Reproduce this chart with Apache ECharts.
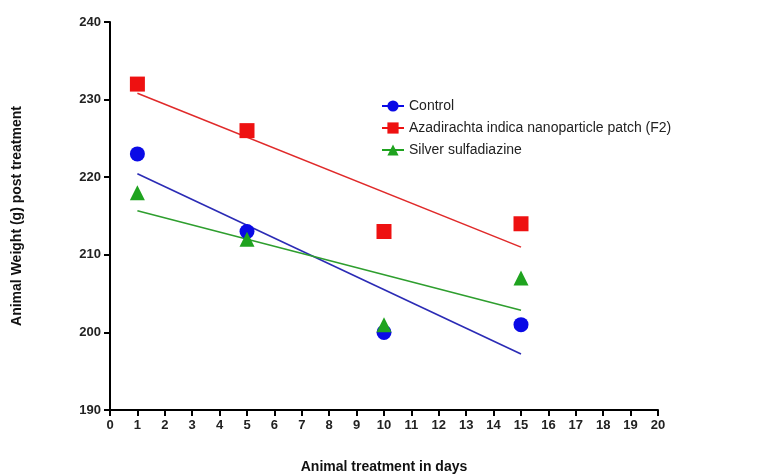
<!DOCTYPE html>
<html>
<head>
<meta charset="utf-8">
<script src="https://cdn.jsdelivr.net/npm/echarts@6/dist/echarts.min.js"></script>
<style>
  html, body { margin: 0; padding: 0; background: #fff; }
  #main { width: 774px; height: 474px; }
</style>
</head>
<body>
<div id="main"></div>
<script>
// days of treatment
var days = [1, 5, 10, 15];
// animal weight (g) per group
var control = [223, 213, 200, 201];
var f2Patch = [232, 226, 213, 214];
var silver = [218, 212, 201, 207];

var names = ['Control', 'Azadirachta indica nanoparticle patch (F2)', 'Silver sulfadiazine'];

// least squares fit, drawn between first and last day
function fit(ys) {
    var n = days.length, mx = 0, my = 0;
    days.forEach(function (x, i) { mx += x; my += ys[i]; });
    mx /= n; my /= n;
    var sxy = 0, sxx = 0;
    days.forEach(function (x, i) {
        sxy += (x - mx) * (ys[i] - my);
        sxx += (x - mx) * (x - mx);
    });
    var b = sxy / sxx, a = my - b * mx;
    var x0 = days[0], x1 = days[n - 1];
    return [[x0, a + b * x0], [x1, a + b * x1]];
}

function pts(ys) {
    return days.map(function (x, i) { return [x, ys[i]]; });
}

var font = 'Liberation Sans, Arial, sans-serif';

function dataSeries(name, ys, symbol, color) {
    return {
        name: name,
        type: 'line',
        data: pts(ys),
        symbol: symbol,
        symbolSize: 15,
        itemStyle: { color: color },
        lineStyle: { opacity: 0 },
        z: 3
    };
}

function fitSeries(ys, color) {
    return {
        type: 'line',
        data: fit(ys),
        symbol: 'none',
        silent: true,
        lineStyle: { color: color, width: 1.6 },
        z: 2
    };
}

var main = echarts.init(document.getElementById('main'));

var option = {
    animation: false,
    grid: { left: 110, right: 116, top: 22, bottom: 64, containLabel: false, outerBoundsMode: 'none' },
    legend: {
        orient: 'vertical',
        left: 376,
        top: 94,
        itemWidth: 22,
        itemHeight: 14,
        itemGap: 8,
        data: names,
        lineStyle: { opacity: 1, width: 2 },
        textStyle: { fontFamily: font, fontSize: 14, color: '#222' }
    },
    xAxis: {
        type: 'value',
        min: 0,
        max: 20,
        interval: 1,
        name: 'Animal treatment in days',
        nameLocation: 'middle',
        nameGap: 50,
        nameTextStyle: { fontFamily: font, fontSize: 14, fontWeight: 'bold', color: '#111' },
        splitLine: { show: false },
        axisLine: { onZero: false, lineStyle: { color: '#000', width: 2 } },
        axisTick: { length: 6, lineStyle: { color: '#000', width: 2 } },
        axisLabel: { fontFamily: font, fontSize: 13, fontWeight: 'bold', color: '#222', margin: 9 }
    },
    yAxis: {
        type: 'value',
        min: 190,
        max: 240,
        interval: 10,
        name: 'Animal Weight (g) post treatment',
        nameLocation: 'middle',
        nameGap: 86,
        nameTextStyle: { fontFamily: font, fontSize: 14, fontWeight: 'bold', color: '#111' },
        splitLine: { show: false },
        axisLine: { show: true, lineStyle: { color: '#000', width: 2 } },
        axisTick: { show: true, length: 6, lineStyle: { color: '#000', width: 2 } },
        axisLabel: { fontFamily: font, fontSize: 13, fontWeight: 'bold', color: '#222', margin: 9 }
    },
    series: [
        dataSeries(names[0], control, 'circle', '#0a0ae6'),
        dataSeries(names[1], f2Patch, 'rect', '#ee1111'),
        dataSeries(names[2], silver, 'triangle', '#1fa31f'),
        fitSeries(control, '#2b2bb5'),
        fitSeries(f2Patch, '#e02a2a'),
        fitSeries(silver, '#2e9e2e')
    ]
};

main.setOption(option);
</script>
</body>
</html>
